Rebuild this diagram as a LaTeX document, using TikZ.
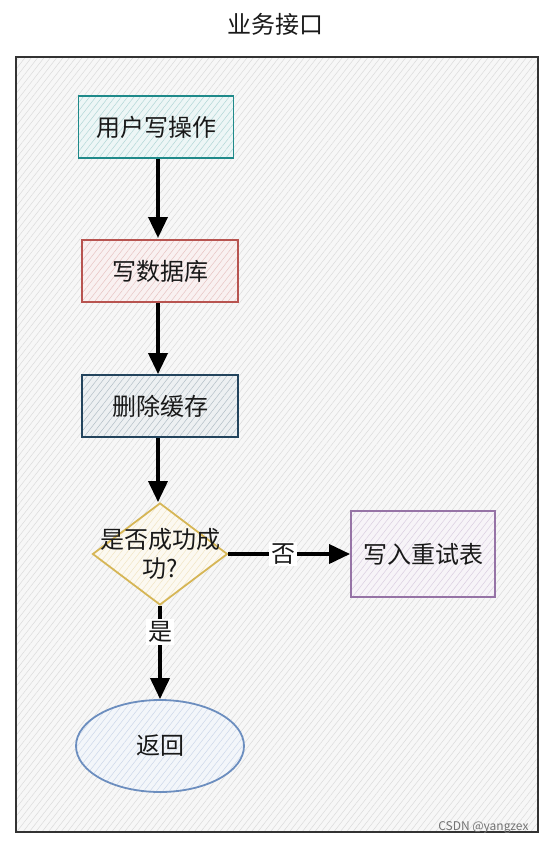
\documentclass[tikz,border=0pt]{standalone}
\usepackage{fontspec}
\setmainfont{Noto Sans CJK SC}
\usetikzlibrary{arrows.meta,shapes.geometric,patterns.meta}
\definecolor{c_teal}{HTML}{1F8A8A}
\definecolor{c_red}{HTML}{B85450}
\definecolor{c_navy}{HTML}{23445D}
\definecolor{c_gold}{HTML}{D6B656}
\definecolor{c_purp}{HTML}{9673A6}
\definecolor{c_blue}{HTML}{6C8EBF}
\tikzset{
  hatch/.style = {preaction={fill=#1!8},
    preaction={pattern={Lines[angle=52,distance=5pt,line width=0.5pt]},
    pattern color=#1!35}},
  fc_node/.style = {align=center, inner sep=0pt, text centered,
    font=\fontsize{24}{29}\selectfont, text=black!90},
  fc_box/.style = {fc_node, rectangle, draw=#1, line width=1.8pt,
    hatch=#1},% boite d'operation
  fc_diam/.style = {fc_node, diamond, draw=c_gold, line width=1.8pt,
    hatch=c_gold, minimum width=135pt, minimum height=102pt},% test
  fc_ell/.style = {fc_node, ellipse, draw=c_blue, line width=1.8pt,
    hatch=c_blue, minimum width=168pt, minimum height=92pt},% fin
  fc_lab/.style = {fc_node, fill=white, inner sep=2pt},% etiquette de fleche
  fc_arr/.style = {-{Triangle[width=19pt,length=21pt]}, line width=3.6pt, black}
}

\begin{document}
\begin{tikzpicture}[x=1pt,y=-1pt]
	\useasboundingbox (0,0) rectangle (547,845);

	% cadre
	\node [fc_node] (title) at (275,24) {业务接口};
	\draw [draw=black!80, line width=2.2pt, preaction={fill=black!3},
		preaction={pattern={Lines[angle=52,distance=5pt,line width=0.5pt]}, pattern color=black!14}]
		(16,57) rectangle (538,832);

	% etapes
	\node [fc_box=c_teal, minimum width=155pt, minimum height=62pt] (op) at (156,127) {用户写操作};
	\node [fc_box=c_red, minimum width=156pt, minimum height=62pt] (db) at (160,271) {写数据库};
	\node [fc_box=c_navy, minimum width=156pt, minimum height=62pt] (cache) at (160,406) {删除缓存};
	\node [fc_diam, label={[fc_node]center:是否成功成\\功?}] (test) at (160,554) {};
	\node [fc_box=c_purp, minimum width=144pt, minimum height=86pt] (retry) at (423,554) {写入重试表};
	\node [fc_ell] (ret) at (160,746) {返回};

	% fleches
	\draw [fc_arr] (op.south -| 158,0) -- (158,238);
	\draw [fc_arr] (db.south -| 158,0) -- (cache.north -| 158,0);
	\draw [fc_arr] (cache.south -| 158,0) -- (test.north -| 158,0);
	\draw [fc_arr] (test.east) -- node [fc_lab, pos=0.45] (no) {否} (retry.west);
	\draw [fc_arr] (test.south) -- node [fc_lab, pos=0.28] (yes) {是} (ret.north);

	\node [font=\fontsize{12}{14}\selectfont, text=black!55, anchor=east] (mark) at (532,828) {CSDN @yangzex};
\end{tikzpicture}
\end{document}
